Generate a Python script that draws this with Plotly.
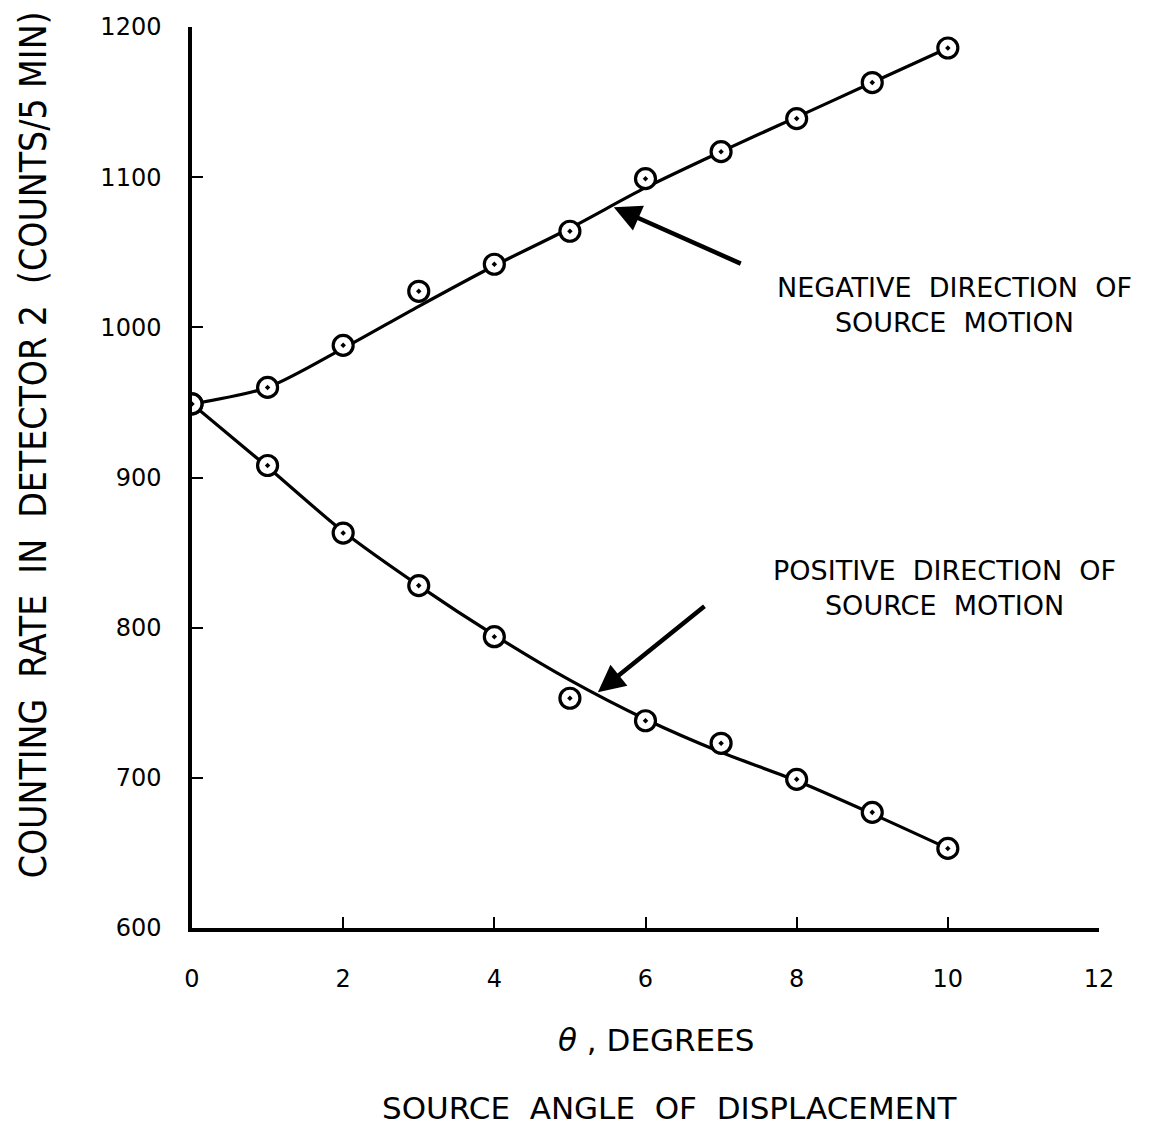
import plotly.graph_objects as go

# Measured points
theta = [0, 1, 2, 3, 4, 5, 6, 7, 8, 9, 10]
neg_counts = [949, 960, 988, 1024, 1042, 1064, 1099, 1117, 1139, 1163, 1186]
pos_counts = [949, 908, 863, 828, 794, 753, 738, 723, 699, 677, 653]

# Hand-drawn fitted curves
neg_fit = [949, 960, 986, 1014, 1041, 1066, 1093, 1117, 1140, 1163, 1186]
pos_fit = [949, 907, 864, 828, 795, 765, 739, 717, 698, 676, 653]

x_ticks = [0, 2, 4, 6, 8, 10, 12]
y_ticks = [600, 700, 800, 900, 1000, 1100, 1200]

TICK_FONT = dict(family="DejaVu Sans", size=24, color="black")
TXT_FONT = "DejaVu Sans, sans-serif"
COND_FONT = "DejaVu Sans Condensed, Liberation Sans Narrow, sans-serif"

fig = go.Figure()

for fit in (neg_fit, pos_fit):
    fig.add_trace(go.Scatter(x=theta, y=fit, mode="lines",
                             line=dict(color="black", width=3.2, shape="spline", smoothing=0.8),
                             hoverinfo="skip", showlegend=False))

for pts in (neg_counts, pos_counts):
    fig.add_trace(go.Scatter(x=theta, y=pts, mode="markers",
                             marker=dict(symbol="circle-dot", size=20, color="white",
                                         line=dict(color="black", width=3.2)),
                             showlegend=False))

fig.update_xaxes(range=[0, 12], tickvals=x_ticks, ticks="inside", ticklen=11, tickwidth=2,
                 tickcolor="black", showline=True, linecolor="black", linewidth=3.5,
                 showgrid=False, zeroline=False, tickfont=TICK_FONT, ticklabelstandoff=26)
fig.update_yaxes(range=[600, 1200], tickvals=y_ticks, ticks="inside", ticklen=11, tickwidth=2,
                 tickcolor="black", showline=True, linecolor="black", linewidth=3.5,
                 showgrid=False, zeroline=False, tickfont=TICK_FONT, ticklabelstandoff=22)

# arrows
fig.add_annotation(x=5.58, y=1080, ax=7.28, ay=1042, xref="x", yref="y", axref="x", ayref="y",
                   text="", showarrow=True, arrowhead=2, arrowsize=1.2, arrowwidth=4.5, arrowcolor="black")
fig.add_annotation(x=5.37, y=757, ax=6.80, ay=815, xref="x", yref="y", axref="x", ayref="y",
                   text="", showarrow=True, arrowhead=2, arrowsize=1.2, arrowwidth=4.5, arrowcolor="black")

fig.add_annotation(x=0.841, y=0.691, xref="paper", yref="paper", showarrow=False,
                   xanchor="center", yanchor="middle",
                   text="NEGATIVE  DIRECTION  OF<br>SOURCE  MOTION",
                   font=dict(family=TXT_FONT, size=27, color="black"), align="center")
fig.add_annotation(x=0.830, y=0.377, xref="paper", yref="paper", showarrow=False,
                   xanchor="center", yanchor="middle",
                   text="POSITIVE  DIRECTION  OF<br>SOURCE  MOTION",
                   font=dict(family=TXT_FONT, size=27, color="black"), align="center")

fig.add_annotation(x=0.512, y=-0.124, xref="paper", yref="paper", showarrow=False,
                   xanchor="center", yanchor="middle",
                   text="<i>θ</i> , DEGREES",
                   font=dict(family=TXT_FONT, size=31, color="black"))
fig.add_annotation(x=0.527, y=-0.200, xref="paper", yref="paper", showarrow=False,
                   xanchor="center", yanchor="middle",
                   text="SOURCE  ANGLE  OF  DISPLACEMENT",
                   font=dict(family=TXT_FONT, size=31, color="black"))
fig.add_annotation(x=-0.175, y=0.536, xref="paper", yref="paper", showarrow=False, textangle=-90,
                   xanchor="center", yanchor="middle",
                   text="COUNTING  RATE  IN  DETECTOR 2  (COUNTS/5 MIN)",
                   font=dict(family=COND_FONT, size=37, color="black"))

fig.update_layout(width=1153, height=1128, margin=dict(l=192, r=54, t=27, b=200),
                  plot_bgcolor="white", paper_bgcolor="white", showlegend=False)

fig.write_html("out.html")
